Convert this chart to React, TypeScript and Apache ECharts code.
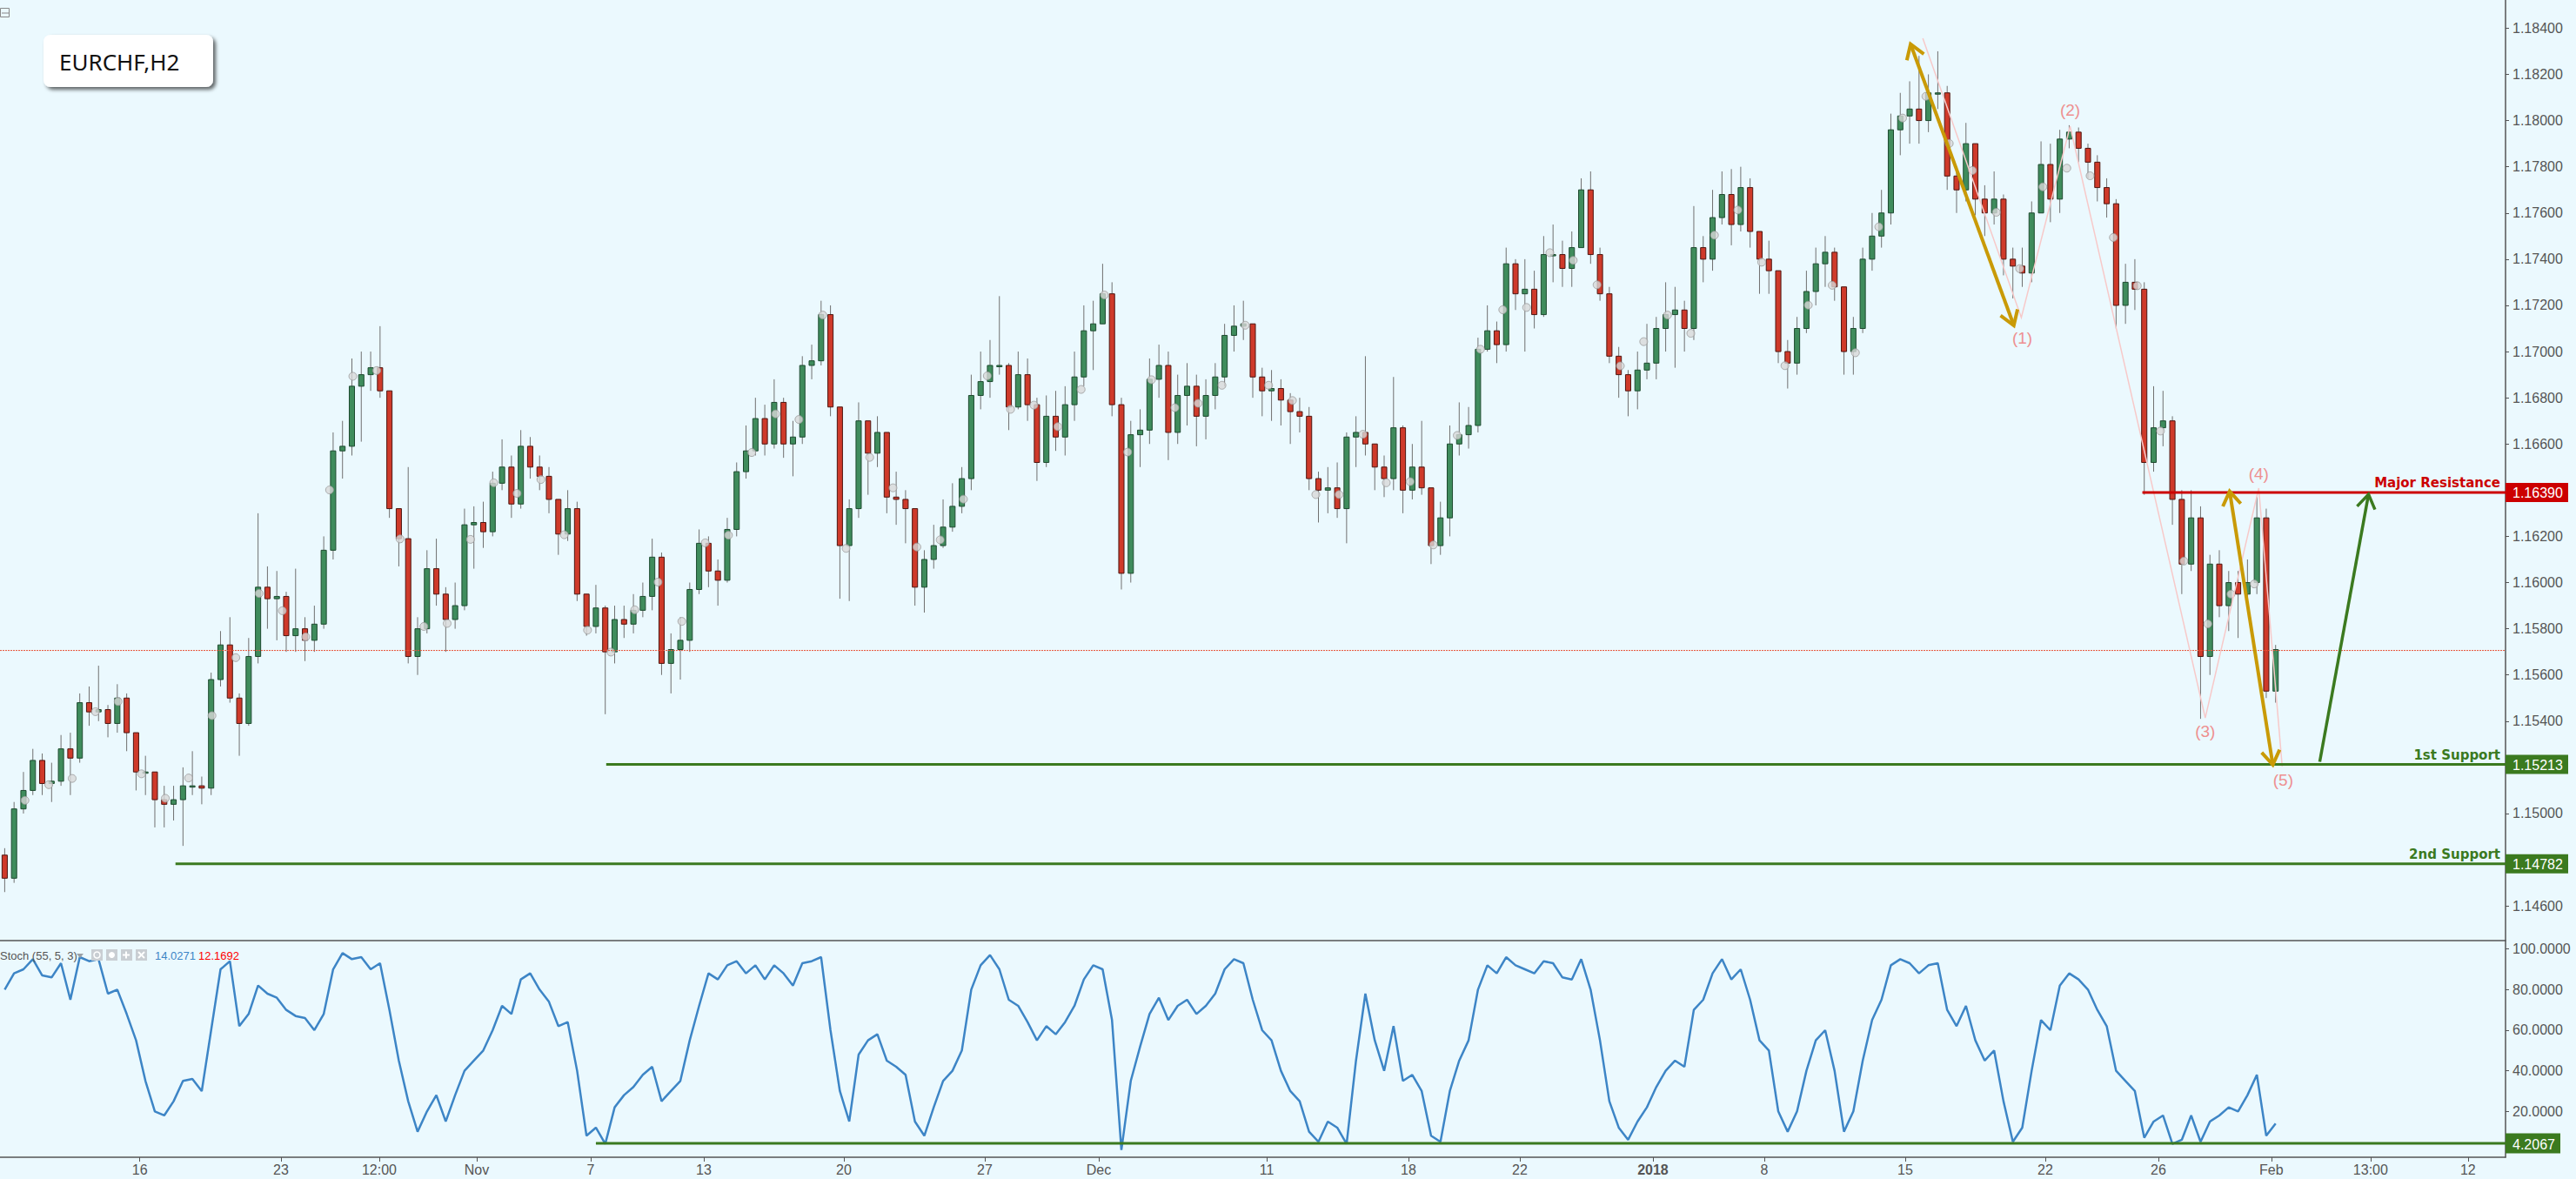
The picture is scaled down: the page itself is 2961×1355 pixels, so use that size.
import React, { useEffect, useRef } from 'react';
import * as echarts from 'echarts';

// ---------- DATA ----------
const N_SLOTS = 267; // 8-hour slots across the whole time axis (incl. future space)
const FIRST_OPEN = 1.1482;

const closes = [
  1.1472,1.1502,1.1510,1.1523,1.1513,1.1514,1.1528,1.1524,1.1548,1.1544,
  1.1545,1.1539,1.1550,1.1535,1.1518,1.1518,1.1506,1.1504,1.1506,1.1512,
  1.1512,1.1511,1.1558,1.1573,1.1550,1.1539,1.1568,1.1598,1.1593,1.1594,
  1.1577,1.1580,1.1575,1.1582,1.1614,1.1657,1.1659,1.1685,1.1690,1.1693,
  1.1683,1.1632,1.1619,1.1568,1.1580,1.1606,1.1595,1.1584,1.1590,1.1625,
  1.1626,1.1622,1.1643,1.1650,1.1634,1.1659,1.1650,1.1646,1.1636,1.1621,
  1.1632,1.1595,1.1581,1.1589,1.1570,1.1584,1.1582,1.1588,1.1594,1.1611,
  1.1565,1.1571,1.1575,1.1597,1.1617,1.1605,1.1601,1.1623,1.1648,1.1657,
  1.1671,1.1660,1.1678,1.1660,1.1663,1.1694,1.1696,1.1716,1.1676,1.1616,
  1.1632,1.1670,1.1656,1.1665,1.1637,1.1636,1.1632,1.1598,1.1610,1.1616,
  1.1624,1.1633,1.1645,1.1681,1.1687,1.1694,1.1694,1.1676,1.1690,1.1677,
  1.1652,1.1672,1.1663,1.1677,1.1689,1.1709,1.1712,1.1725,1.1677,1.1604,
  1.1664,1.1666,1.1688,1.1694,1.1665,1.1681,1.1685,1.1672,1.1681,1.1689,
  1.1707,1.1711,1.1712,1.1689,1.1683,1.1684,1.1679,1.1674,1.1672,1.1645,
  1.1640,1.1641,1.1632,1.1663,1.1665,1.1660,1.1650,1.1645,1.1667,1.1640,
  1.1650,1.1641,1.1616,1.1628,1.1660,1.1664,1.1668,1.1701,1.1709,1.1703,
  1.1738,1.1725,1.1727,1.1716,1.1742,1.1742,1.1736,1.1745,1.1770,1.1742,
  1.1725,1.1698,1.1690,1.1683,1.1692,1.1695,1.1710,1.1716,1.1718,1.1710,
  1.1745,1.1740,1.1758,1.1768,1.1755,1.1771,1.1752,1.1740,1.1735,1.1700,
  1.1695,1.1710,1.1726,1.1738,1.1743,1.1728,1.1700,1.1710,1.1740,1.1750,
  1.1760,1.1796,1.1802,1.1805,1.1800,1.1812,1.1812,1.1776,1.1770,1.1790,
  1.1766,1.1760,1.1766,1.1740,1.1737,1.1734,1.1760,1.1781,1.1766,1.1792,
  1.1795,1.1788,1.1782,1.1771,1.1764,1.1720,1.1730,1.1727,1.1652,1.1667,
  1.1670,1.1636,1.1608,1.1628,1.1568,1.1608,1.1590,1.1600,1.1595,1.1600,
  1.1628,1.1553,1.1571,
];

const highs = [
  1.1485,1.1505,1.1518,1.1528,1.1526,1.1522,1.1534,1.1535,1.1552,1.1555,
  1.1564,1.1547,1.1556,1.1552,1.1535,1.1525,1.1518,1.1512,1.1512,1.1520,
  1.1527,1.1516,1.1561,1.1579,1.1585,1.1552,1.1576,1.1630,1.1607,1.1605,
  1.1596,1.1606,1.1585,1.1590,1.1620,1.1665,1.1670,1.1697,1.1700,1.1700,
  1.1711,1.1683,1.1632,1.1650,1.1585,1.1614,1.1619,1.1598,1.1600,1.1632,
  1.1633,1.1635,1.1648,1.1662,1.1655,1.1666,1.1663,1.1655,1.1650,1.1636,
  1.1640,1.1635,1.1595,1.1599,1.1590,1.1590,1.1590,1.1595,1.1600,1.1619,
  1.1613,1.1578,1.1585,1.1600,1.1623,1.1620,1.1610,1.1628,1.1652,1.1668,
  1.1680,1.1677,1.1688,1.1680,1.1670,1.1698,1.1703,1.1722,1.1720,1.1676,
  1.1636,1.1678,1.1670,1.1672,1.1665,1.1648,1.1640,1.1632,1.1614,1.1625,
  1.1636,1.1643,1.1650,1.1690,1.1700,1.1705,1.1724,1.1695,1.1700,1.1697,
  1.1680,1.1681,1.1683,1.1685,1.1700,1.1720,1.1722,1.1738,1.1730,1.1680,
  1.1670,1.1675,1.1697,1.1703,1.1700,1.1690,1.1695,1.1690,1.1688,1.1695,
  1.1712,1.1720,1.1722,1.1712,1.1693,1.1692,1.1688,1.1682,1.1680,1.1676,
  1.1648,1.1650,1.1652,1.1665,1.1672,1.1698,1.1660,1.1655,1.1689,1.1668,
  1.1660,1.1670,1.1640,1.1635,1.1668,1.1678,1.1676,1.1706,1.1720,1.1713,
  1.1745,1.1740,1.1740,1.1735,1.1750,1.1755,1.1748,1.1752,1.1775,1.1778,
  1.1745,1.1728,1.1702,1.1692,1.1700,1.1712,1.1715,1.1730,1.1728,1.1722,
  1.1763,1.1750,1.1770,1.1778,1.1779,1.1780,1.1775,1.1752,1.1748,1.1735,
  1.1705,1.1715,1.1735,1.1745,1.1750,1.1745,1.1725,1.1715,1.1745,1.1760,
  1.1770,1.1803,1.1812,1.1817,1.1828,1.1820,1.1830,1.1815,1.1780,1.1799,
  1.1790,1.1772,1.1778,1.1768,1.1745,1.1745,1.1765,1.1791,1.1790,1.1796,
  1.1798,1.1797,1.1790,1.1785,1.1775,1.1766,1.1738,1.1740,1.1730,1.1685,
  1.1683,1.1672,1.1640,1.1640,1.1633,1.1612,1.1614,1.1605,1.1605,1.1610,
  1.1637,1.1632,1.1573,
];

const lows = [
  1.1466,1.1470,1.1500,1.1508,1.1508,1.1505,1.1512,1.1508,1.1522,1.1538,
  1.1540,1.1533,1.1535,1.1527,1.1510,1.1508,1.1494,1.1494,1.1497,1.1486,
  1.1508,1.1504,1.1508,1.1555,1.1548,1.1525,1.1538,1.1565,1.1580,1.1575,
  1.1570,1.1570,1.1566,1.1570,1.1580,1.1610,1.1645,1.1655,1.1661,1.1683,
  1.1680,1.1628,1.1607,1.1565,1.1560,1.1578,1.1590,1.1570,1.1580,1.1588,
  1.1606,1.1615,1.1620,1.1640,1.1628,1.1632,1.1645,1.1640,1.1630,1.1612,
  1.1618,1.1592,1.1577,1.1578,1.1543,1.1565,1.1576,1.1578,1.1585,1.1588,
  1.1560,1.1552,1.1558,1.1570,1.1595,1.1598,1.1590,1.1600,1.1620,1.1645,
  1.1655,1.1655,1.1658,1.1654,1.1646,1.1660,1.1688,1.1694,1.1672,1.1593,
  1.1592,1.1628,1.1638,1.1650,1.1630,1.1625,1.1617,1.1590,1.1587,1.1606,
  1.1615,1.1622,1.1630,1.1640,1.1675,1.1680,1.1690,1.1666,1.1675,1.1670,
  1.1644,1.1650,1.1657,1.1655,1.1670,1.1685,1.1692,1.1712,1.1672,1.1597,
  1.1600,1.1650,1.1660,1.1680,1.1653,1.1660,1.1668,1.1659,1.1662,1.1675,
  1.1685,1.1700,1.1705,1.1680,1.1672,1.1670,1.1668,1.1660,1.1665,1.1640,
  1.1626,1.1630,1.1628,1.1617,1.1650,1.1655,1.1640,1.1637,1.1640,1.1630,
  1.1636,1.1638,1.1608,1.1612,1.1620,1.1655,1.1658,1.1665,1.1700,1.1695,
  1.1700,1.1718,1.1700,1.1710,1.1715,1.1730,1.1728,1.1728,1.1745,1.1738,
  1.1722,1.1695,1.1680,1.1672,1.1675,1.1688,1.1688,1.1700,1.1693,1.1700,
  1.1705,1.1730,1.1735,1.1755,1.1746,1.1752,1.1745,1.1725,1.1725,1.1695,
  1.1684,1.1690,1.1708,1.1720,1.1728,1.1722,1.1690,1.1690,1.1708,1.1735,
  1.1745,1.1755,1.1785,1.1790,1.1790,1.1795,1.1805,1.1770,1.1760,1.1765,
  1.1759,1.1750,1.1755,1.1733,1.1723,1.1728,1.1730,1.1762,1.1756,1.1760,
  1.1788,1.1782,1.1775,1.1765,1.1758,1.1710,1.1712,1.1718,1.1638,1.1648,
  1.1659,1.1625,1.1595,1.1605,1.1541,1.1560,1.1585,1.1579,1.1576,1.1590,
  1.1595,1.1550,1.1548,
];

const stoch = [
  80,88,90,95,87,86,93,75,96,94,
  95,78,80,68,55,35,20,18,25,35,
  36,30,60,90,94,62,68,82,78,76,
  70,67,66,60,68,90,98,95,96,90,
  93,70,45,25,10,20,28,15,28,40,
  45,50,60,72,68,85,88,80,74,62,
  64,40,8,12,4,22,28,32,38,42,
  25,30,35,55,72,88,85,92,94,88,
  92,85,92,88,82,93,94,96,60,30,
  15,48,55,58,45,42,38,15,8,22,
  35,40,50,80,92,97,90,75,72,64,
  55,62,58,64,72,85,92,90,65,1,
  35,52,68,76,65,72,75,68,72,78,
  90,95,93,75,60,55,40,30,25,10,
  5,15,12,4,45,78,55,40,62,35,
  38,30,8,5,30,45,55,80,92,88,
  96,92,90,88,94,93,86,85,95,80,
  55,25,12,6,15,22,32,40,45,42,
  70,75,88,95,85,90,75,55,50,20,
  10,20,40,55,60,40,10,20,45,65,
  75,92,95,93,88,92,93,70,62,72,
  55,45,50,25,5,12,40,65,60,82,
  88,85,80,70,62,40,35,30,7,15,
  18,4,6,18,5,15,18,22,20,28,
  38,8,14,
];

// grey pivot dots drawn on the candles (slot units, price)
const dotX = [
  2.66,5.20,7.69,10.17,12.59,15.08,17.62,20.10,22.59,25.13,27.61,30.09,32.58,35.12,37.60,40.14,42.63,45.17,47.65,50.14,
  52.62,55.10,57.64,60.13,62.61,65.10,67.64,70.12,72.66,75.15,77.63,80.11,82.66,85.14,87.68,90.16,92.68,95.16,97.71,100.19,
  102.67,105.21,107.69,110.18,112.72,115.21,117.69,120.17,122.71,125.20,127.68,130.22,132.71,135.19,137.73,140.22,142.70,145.24,147.73,150.27,
  152.75,155.29,157.77,160.14,162.68,165.16,167.65,170.19,172.67,175.16,177.70,180.18,182.70,185.19,187.73,190.21,192.70,195.24,197.72,200.21,
  202.75,205.23,207.72,210.19,212.74,215.22,217.70,220.25,222.73,225.21,227.76,230.23,232.72,235.27,237.74,240.22,
];
const dotY = [
  1.15057,1.15125,1.15152,1.15441,1.15485,1.15172,1.15066,1.15154,1.15424,1.15675,1.15953,1.15878,1.15765,1.16401,1.16893,1.16918,1.16189,1.15810,1.15823,1.16187,
  1.16432,1.16386,1.16446,1.16207,1.15794,1.15699,1.15882,1.16002,1.15832,1.16172,1.16205,1.16563,1.16730,1.16706,1.17158,1.16148,1.16542,1.16410,1.16154,1.16185,
  1.16361,1.16895,1.16750,1.16768,1.16675,1.16836,1.17245,1.16565,1.16878,1.16757,1.16776,1.16854,1.17114,1.16854,1.16788,1.16381,1.16381,1.16642,1.16432,1.16437,
  1.16163,1.16637,1.17010,1.17181,1.17191,1.17428,1.17395,1.17289,1.16938,1.17043,1.17158,1.17079,1.17504,1.17613,1.17387,1.16939,1.17201,1.17287,1.16995,1.17540,
  1.18011,1.18105,1.17901,1.17784,1.17603,1.17359,1.17713,1.17794,1.17761,1.17494,1.17285,1.16656,1.16093,1.15821,1.15950,1.15994,
];

const priceTicks = [1.146,1.148,1.150,1.152,1.154,1.156,1.158,1.160,1.162,1.164,1.166,1.168,1.170,1.172,1.174,1.176,1.178,1.180,1.182,1.184];
const stochTicks = [0, 20, 40, 60, 80, 100];
const stochLabelTicks = [20, 40, 60, 80, 100]; // 0.0000 sits under the 4.2067 marker

// time-axis labels: position in slot units, text
const timeLabelPos = [14.90, 29.94, 40.42, 50.80, 62.95, 75.00, 89.92, 104.94, 117.09, 134.98, 150.09, 161.95, 176.14, 188.00, 203.02, 217.95, 230.00, 242.05, 252.62, 263.00];
const timeLabelText = ['16', '23', '12:00', 'Nov', '7', '13', '20', '27', 'Dec', '11', '18', '22', '2018', '8', '15', '22', '26', 'Feb', '13:00', '12'];
const boldLabels = ['2018'];

const PRICE_MIN = 1.1445;
const PRICE_MAX = 1.18522;
const STOCH_MIN = -2.6;
const STOCH_MAX = 104.15;
const CURRENT_PRICE = 1.15706;

// annotations (slot units, price)
const levelNames = ['Major Resistance', '1st Support', '2nd Support'];
const levelPrices = [1.1639, 1.15213, 1.14782];
const levelStart = [228.3, 64.6, 18.7];
const levelColors = ['#cc0000', '#3b7a1f', '#3b7a1f'];
const stochLevel = 4.2067;
const stochLevelStart = 63.5;

const waveNames = ['(1)', '(2)', '(3)', '(4)', '(5)'];
const waveX = [215.5, 220.6, 235.0, 240.7, 243.3];
const waveY = [1.17060, 1.18045, 1.15355, 1.16470, 1.15145];
const zigX = [204.9, 215.4, 220.6, 235.0, 240.7, 243.2];
const zigY = [1.18356, 1.17147, 1.17975, 1.15414, 1.16409, 1.15204];

// arrows: [x0, p0, x1, p1]
const goldArrows = [
  [203.6, 1.18331, 214.6, 1.17113],
  [237.6, 1.16395, 242.2, 1.15211],
];
const greenArrow = [247.2, 1.15224, 252.4, 1.16382];

// ---------- STYLE ----------
const BG = '#ebf9fe';
const AXIS = '#555555';
const UP_FILL = '#3f8c5c';
const UP_BORDER = '#1d4a2f';
const DN_FILL = '#cf3a2a';
const DN_BORDER = '#4d1510';
const WICK = '#707070';
const GOLD = '#c99a06';
const GREEN = '#3b7a1f';
const FONT = '"Liberation Sans", Arial, sans-serif';

export default function App() {
  const ref = useRef<HTMLDivElement>(null);

  useEffect(() => {
    if (!ref.current) return;
    const chart = echarts.init(ref.current, undefined, { renderer: 'svg' });

    const cats = Array.from({ length: N_SLOTS }, (_, i) => String(i));
    const candles = closes.map((c, i) => {
      const o = i === 0 ? FIRST_OPEN : closes[i - 1];
      const h = Math.max(highs[i], o, c);
      const l = Math.min(lows[i], o, c);
      return [i, o, c, l, h];
    });
    const dots = dotX.map((x, i) => [x, dotY[i]]);

    const labelFor = (v: number) => {
      const k = timeLabelPos.findIndex((p) => Math.abs(p - v) < 1e-6);
      if (k < 0) return '';
      const t = timeLabelText[k];
      return boldLabels.includes(t) ? `{b|${t}}` : t;
    };

    const option: any = {
      animation: false,
      backgroundColor: BG,
      grid: [
        { left: 0, right: 81, top: 0, height: 1081 },
        { left: 0, right: 81, top: 1081, height: 249 },
      ],
      xAxis: [
        { type: 'category', gridIndex: 0, data: cats, boundaryGap: true, show: false },
        { type: 'category', gridIndex: 1, data: cats, boundaryGap: true, show: false },
        {
          type: 'value', gridIndex: 1, min: 0, max: N_SLOTS, position: 'bottom',
          splitLine: { show: false },
          axisLine: { show: true, onZero: false, lineStyle: { color: AXIS, width: 1.5 } },
          axisTick: { show: true, customValues: timeLabelPos, length: 5, lineStyle: { color: AXIS } },
          axisLabel: {
            customValues: timeLabelPos, formatter: labelFor, color: AXIS, fontSize: 16,
            fontFamily: FONT, margin: 6,
            rich: { b: { fontWeight: 'bold', fontSize: 16, color: AXIS, fontFamily: FONT } },
          },
        },
        { type: 'value', gridIndex: 0, min: 0, max: N_SLOTS, show: false, splitLine: { show: false } },
      ],
      yAxis: [
        {
          type: 'value', gridIndex: 0, position: 'right', min: PRICE_MIN, max: PRICE_MAX,
          splitLine: { show: false },
          axisLine: { show: true, onZero: false, lineStyle: { color: AXIS, width: 1.5 } },
          axisTick: { show: true, customValues: priceTicks, length: 4, lineStyle: { color: AXIS } },
          axisLabel: {
            customValues: priceTicks, formatter: (v: number) => v.toFixed(5),
            color: AXIS, fontSize: 16, fontFamily: FONT, margin: 8,
          },
        },
        {
          type: 'value', gridIndex: 1, position: 'right', min: STOCH_MIN, max: STOCH_MAX,
          splitLine: { show: false },
          axisLine: { show: true, onZero: false, lineStyle: { color: AXIS, width: 1.5 } },
          axisTick: { show: true, customValues: stochTicks, length: 4, lineStyle: { color: AXIS } },
          axisLabel: {
            customValues: stochLabelTicks, formatter: (v: number) => v.toFixed(4),
            color: AXIS, fontSize: 16, fontFamily: FONT, margin: 8,
          },
        },
      ],
      series: [
        {
          type: 'custom', xAxisIndex: 0, yAxisIndex: 0, data: candles,
          encode: { x: 0, y: [1, 2, 3, 4] },
          renderItem: (params: any, api: any) => {
            const x = api.value(0);
            const o = api.value(1), c = api.value(2), l = api.value(3), h = api.value(4);
            const pO = api.coord([x, o]);
            const pC = api.coord([x, c]);
            const pL = api.coord([x, l]);
            const pH = api.coord([x, h]);
            const w = api.size([1, 0])[0] * 0.56;
            const up = c >= o;
            const top = Math.min(pO[1], pC[1]);
            const hgt = Math.max(1.5, Math.abs(pO[1] - pC[1]));
            return {
              type: 'group',
              children: [
                { type: 'line', shape: { x1: pH[0], y1: pH[1], x2: pL[0], y2: pL[1] }, style: { stroke: WICK, lineWidth: 1 } },
                {
                  type: 'rect', shape: { x: pO[0] - w / 2, y: top, width: w, height: hgt },
                  style: { fill: up ? UP_FILL : DN_FILL, stroke: up ? UP_BORDER : DN_BORDER, lineWidth: 1 },
                },
              ],
            };
          },
        },
        {
          type: 'scatter', xAxisIndex: 3, yAxisIndex: 0, data: dots, symbol: 'circle', symbolSize: 9,
          itemStyle: { color: '#d8d8d8', borderColor: '#9a9a9a', borderWidth: 1 }, z: 4,
        },
        {
          type: 'line', xAxisIndex: 1, yAxisIndex: 1, data: stoch, showSymbol: false,
          lineStyle: { color: '#3d85c6', width: 2.5 }, z: 3,
        },
      ],
    };
    chart.setOption(option);

    // ---------- annotations via the library's own scales ----------
    const X = (v: number) => chart.convertToPixel({ xAxisIndex: 2 } as any, v) as number;
    const Y = (p: number) => chart.convertToPixel({ yAxisIndex: 0 } as any, p) as number;
    const YS = (s: number) => chart.convertToPixel({ yAxisIndex: 1 } as any, s) as number;
    const right = X(N_SLOTS);
    const g: any[] = [];

    // separator between panes
    g.push({ type: 'line', z: 50, shape: { x1: 0, y1: 1081, x2: right, y2: 1081 }, style: { stroke: AXIS, lineWidth: 1.5 } });

    // current price dotted line
    const yc = Y(CURRENT_PRICE);
    g.push({ type: 'line', z: 40, shape: { x1: 0, y1: yc, x2: right, y2: yc }, style: { stroke: '#e8553a', lineWidth: 1, lineDash: [2, 1] } });

    // horizontal levels
    levelPrices.forEach((p, i) => {
      const y = Y(p);
      const col = levelColors[i];
      g.push({ type: 'line', z: 60, shape: { x1: X(levelStart[i]), y1: y, x2: right, y2: y }, style: { stroke: col, lineWidth: 3 } });
      g.push({
        type: 'text', z: 61, x: right - 6, y: y - 3,
        style: { text: levelNames[i], fill: col, font: 'bold 15px "DejaVu Sans", Verdana, sans-serif', textAlign: 'right', textVerticalAlign: 'bottom' },
      });
      g.push({ type: 'rect', z: 62, shape: { x: right, y: y - 11, width: 72, height: 22 }, style: { fill: col } });
      g.push({
        type: 'text', z: 63, x: right + 8, y: y + 1,
        style: { text: p.toFixed(5), fill: '#ffffff', font: `16px ${FONT}`, textAlign: 'left', textVerticalAlign: 'middle' },
      });
    });

    // stochastic level
    const ys = YS(stochLevel);
    g.push({ type: 'line', z: 60, shape: { x1: X(stochLevelStart), y1: ys, x2: right, y2: ys }, style: { stroke: GREEN, lineWidth: 3 } });
    g.push({ type: 'rect', z: 62, shape: { x: right, y: ys - 11.5, width: 63, height: 23 }, style: { fill: GREEN } });
    g.push({
      type: 'text', z: 63, x: right + 8, y: ys + 1,
      style: { text: stochLevel.toFixed(4), fill: '#ffffff', font: `16px ${FONT}`, textAlign: 'left', textVerticalAlign: 'middle' },
    });

    // wave zigzag
    g.push({
      type: 'polyline', z: 55,
      shape: { points: zigX.map((x, i) => [X(x), Y(zigY[i])]) },
      style: { stroke: '#f7c9c9', lineWidth: 1.5, fill: 'none' },
    });
    waveNames.forEach((t, i) => {
      g.push({
        type: 'text', z: 70, x: X(waveX[i]), y: Y(waveY[i]),
        style: { text: t, fill: '#ee9090', font: `19px ${FONT}`, textAlign: 'center', textVerticalAlign: 'middle' },
      });
    });

    // arrows
    const head = (tip: number[], from: number[], col: string, lw: number) => {
      const ang = Math.atan2(from[1] - tip[1], from[0] - tip[0]);
      const L = 19, a = 0.58;
      return {
        type: 'polyline', z: 66,
        shape: { points: [[tip[0] + L * Math.cos(ang + a), tip[1] + L * Math.sin(ang + a)], tip, [tip[0] + L * Math.cos(ang - a), tip[1] + L * Math.sin(ang - a)]] },
        style: { stroke: col, lineWidth: lw, fill: 'none' },
      };
    };
    goldArrows.forEach((a) => {
      const p0 = [X(a[0]), Y(a[1])];
      const p1 = [X(a[2]), Y(a[3])];
      g.push({ type: 'line', z: 65, shape: { x1: p0[0], y1: p0[1], x2: p1[0], y2: p1[1] }, style: { stroke: GOLD, lineWidth: 4 } });
      g.push(head(p0, p1, GOLD, 4));
      g.push(head(p1, p0, GOLD, 4));
    });
    {
      const p0 = [X(greenArrow[0]), Y(greenArrow[1])];
      const p1 = [X(greenArrow[2]), Y(greenArrow[3])];
      g.push({ type: 'line', z: 65, shape: { x1: p0[0], y1: p0[1], x2: p1[0], y2: p1[1] }, style: { stroke: GREEN, lineWidth: 3.5 } });
      g.push(head(p1, p0, GREEN, 3.5));
    }

    // title box
    g.push({
      type: 'rect', z: 80, shape: { x: 50, y: 40, width: 195, height: 60, r: 8 },
      style: { fill: '#ffffff', shadowBlur: 4, shadowOffsetX: 3, shadowOffsetY: 3, shadowColor: 'rgba(0,0,0,0.6)' },
    });
    g.push({
      type: 'text', z: 81, x: 68, y: 71,
      style: { text: 'EURCHF,H2', fill: '#111111', font: '26px "Noto Sans", "Open Sans", sans-serif', textAlign: 'left', textVerticalAlign: 'middle' },
    });

    // small collapse icon top-left
    g.push({ type: 'rect', z: 80, shape: { x: 0.5, y: 9.5, width: 10, height: 10 }, style: { fill: 'none', stroke: '#888', lineWidth: 1 } });
    g.push({ type: 'line', z: 80, shape: { x1: 2, y1: 15, x2: 10, y2: 15 }, style: { stroke: '#888', lineWidth: 1 } });

    // stoch header
    g.push({
      type: 'text', z: 80, x: 0, y: 1098,
      style: { text: 'Stoch (55, 5, 3)', fill: '#555555', font: `13px ${FONT}`, textAlign: 'left', textVerticalAlign: 'middle' },
    });
    g.push({ type: 'polygon', z: 80, shape: { points: [[88, 1096], [96, 1096], [92, 1101]] }, style: { fill: '#9aa0a6' } });
    [105, 122, 139, 156].forEach((x) => {
      g.push({ type: 'rect', z: 80, shape: { x, y: 1091, width: 13, height: 13 }, style: { fill: '#c9ced3' } });
    });
    g.push({ type: 'circle', z: 81, shape: { cx: 111.5, cy: 1097.5, r: 3.5 }, style: { fill: 'none', stroke: '#fff', lineWidth: 1.5 } });
    g.push({ type: 'circle', z: 81, shape: { cx: 128.5, cy: 1097.5, r: 3.5 }, style: { fill: '#fff' } });
    g.push({ type: 'line', z: 81, shape: { x1: 141, y1: 1097.5, x2: 149, y2: 1097.5 }, style: { stroke: '#fff', lineWidth: 2 } });
    g.push({ type: 'line', z: 81, shape: { x1: 145, y1: 1093.5, x2: 145, y2: 1101.5 }, style: { stroke: '#fff', lineWidth: 2 } });
    g.push({ type: 'line', z: 81, shape: { x1: 159, y1: 1094, x2: 166, y2: 1101 }, style: { stroke: '#fff', lineWidth: 2 } });
    g.push({ type: 'line', z: 81, shape: { x1: 166, y1: 1094, x2: 159, y2: 1101 }, style: { stroke: '#fff', lineWidth: 2 } });
    g.push({
      type: 'text', z: 80, x: 178, y: 1098,
      style: { text: '14.0271', fill: '#3d85c6', font: `13px ${FONT}`, textAlign: 'left', textVerticalAlign: 'middle' },
    });
    g.push({
      type: 'text', z: 80, x: 228, y: 1098,
      style: { text: '12.1692', fill: '#ff0000', font: `13px ${FONT}`, textAlign: 'left', textVerticalAlign: 'middle' },
    });

    chart.setOption({ graphic: g });

    return () => chart.dispose();
  }, []);

  return (
    <div
      ref={ref}
      style={{ position: 'fixed', left: 0, top: 0, width: 2961, height: 1355 }}
    />
  );
}
